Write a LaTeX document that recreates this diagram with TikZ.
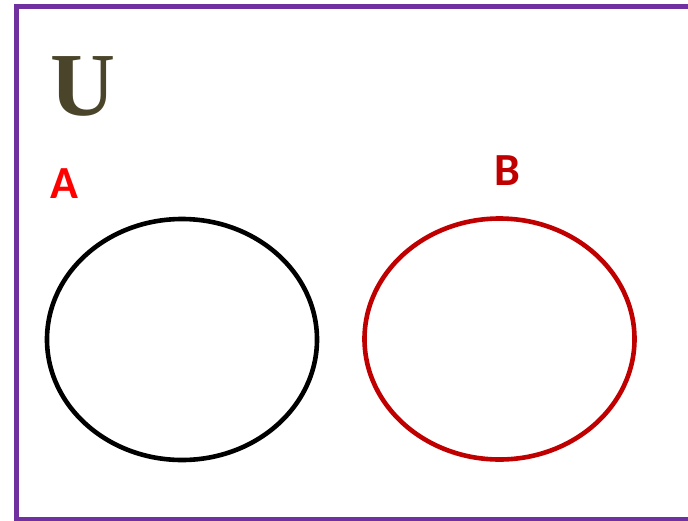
\documentclass[tikz,border=0pt]{standalone}
\usepackage{fontspec}
\setmainfont{Liberation Serif}
\newfontfamily\calib{Carlito}
\definecolor{frame}{HTML}{7030A0}
\definecolor{ucol}{HTML}{4A452A}
\definecolor{darkred}{HTML}{C00000}
\definecolor{brightred}{HTML}{FF0000}
\tikzset{
  setellipse/.style={line width=4.6pt},
  setlabel/.style={inner sep=0pt, anchor=base west, font=\calib\bfseries\fontsize{46}{46}\selectfont}
}
\begin{document}
\begin{tikzpicture}[x=1pt,y=-1pt]
\useasboundingbox (0,0) rectangle (688,520);
\clip (0,0) rectangle (688,520);
\fill[white] (0,0) rectangle (688,520);
\draw[frame, line width=5pt] (16.5,6.5) rectangle (700,519.5);
\node[inner sep=0pt, anchor=base west, text=ucol, font=\bfseries\fontsize{90}{90}\selectfont] (U) at (50,115) {U};
\node[setlabel, text=brightred] (A) at (50,198) {A};
\node[setlabel, text=darkred] (B) at (494,185) {B};
\draw[setellipse, black] (182,339.5) ellipse [x radius=135pt, y radius=120.5pt];
\draw[setellipse, darkred] (499.5,339) ellipse [x radius=135pt, y radius=120.5pt];
\end{tikzpicture}
\end{document}
